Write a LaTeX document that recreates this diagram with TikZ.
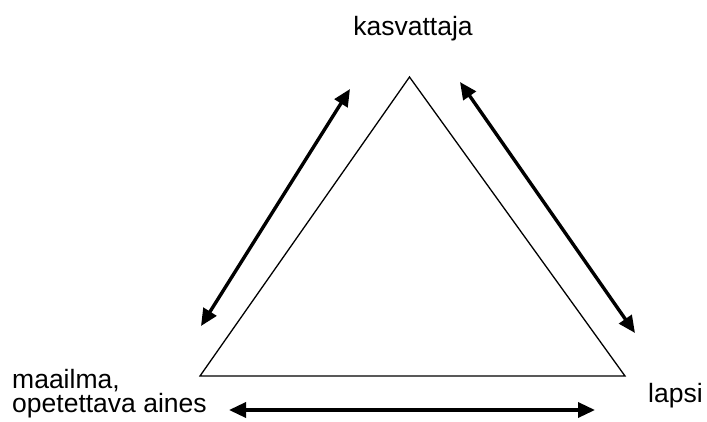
\documentclass[tikz,border=0pt]{standalone}
\usepackage{fontspec}
\setmainfont{Liberation Sans}
\usetikzlibrary{arrows.meta}
\begin{document}
\begin{tikzpicture}[x=1pt,y=-1pt,
  tri/.style={line width=1.3pt, line join=miter},
  dbl/.style={line width=3.4pt, {Triangle[length=17pt,width=15pt]}-{Triangle[length=17pt,width=15pt]}},
  lbl/.style={inner sep=0pt, font=\fontsize{26.5}{24}\selectfont}]
\useasboundingbox (0,0) rectangle (707,421);
\coordinate (A) at (409.5,77);
\coordinate (L) at (200,376);
\coordinate (R) at (625,376);
\draw[tri] (A) -- (L) -- (R) -- cycle;
\coordinate (l1) at (350,89);
\coordinate (l2) at (201,326);
\coordinate (r1) at (460,82);
\coordinate (r2) at (635,333);
\coordinate (b1) at (229,410);
\coordinate (b2) at (595,410);
\draw[dbl] (l1) -- (l2);
\draw[dbl] (r1) -- (r2);
\draw[dbl] (b1) -- (b2);
\node[lbl, anchor=base] (top) at (413,35) {kasvattaja};
\node[lbl, anchor=base west, align=left] (left) at (12,412) {maailma,\\opetettava aines};
\node[lbl, anchor=base west] (right) at (648,402) {lapsi};
\end{tikzpicture}
\end{document}
